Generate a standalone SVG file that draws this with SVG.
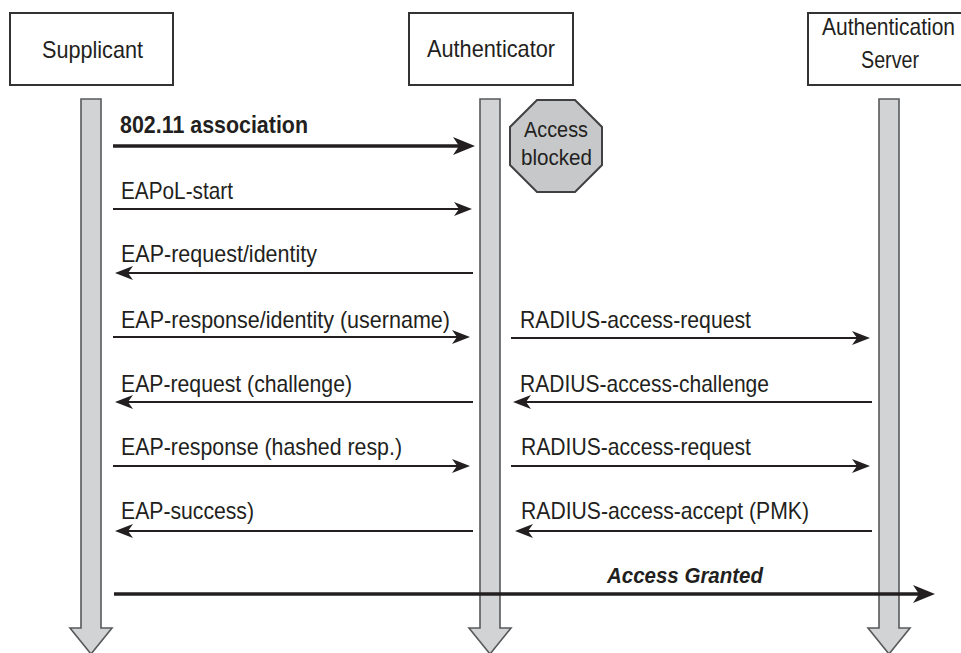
<svg xmlns="http://www.w3.org/2000/svg" width="961" height="653" viewBox="0 0 961 653">
  <style>
    .box { fill: #ffffff; stroke: #333333; stroke-width: 2; }
    .life { fill: #d1d3d4; stroke: #58595b; stroke-width: 1.6; stroke-linejoin: miter; }
    .title { font-family: "Liberation Sans", Arial, sans-serif; font-size: 24px; fill: #231f20; }
    .lbl { font-family: "Liberation Sans", Arial, sans-serif; font-size: 24px; fill: #231f20; }
    .blbl { font-family: "Liberation Sans", Arial, sans-serif; font-size: 24px; font-weight: bold; fill: #231f20; }
    .bilbl { font-family: "Liberation Sans", Arial, sans-serif; font-size: 22px; font-weight: bold; font-style: italic; fill: #231f20; }
    .oct { fill: #c6c8ca; stroke: #414042; stroke-width: 2; }
    .octtxt { font-family: "Liberation Sans", Arial, sans-serif; font-size: 22px; fill: #231f20; }
    .msg { fill: none; stroke: #231f20; stroke-width: 1.8; marker-end: url(#ah); }
    .bmsg { fill: none; stroke: #231f20; stroke-width: 3.5; marker-end: url(#bah); }
  </style>
  <defs>
    <marker id="ah" markerUnits="userSpaceOnUse" markerWidth="18" markerHeight="14" viewBox="0 0 18 14" refX="8" refY="7" orient="auto">
      <path d="M0,0 L18,7 L0,14 L5,7 Z" fill="#231f20"/>
    </marker>
    <marker id="bah" markerUnits="userSpaceOnUse" markerWidth="22" markerHeight="18" viewBox="0 0 22 18" refX="10" refY="9" orient="auto">
      <path d="M0,0 L22,9 L0,18 L6,9 Z" fill="#231f20"/>
    </marker>
  </defs>
  <rect width="961" height="653" fill="#ffffff"/>

  <g id="supplicant">
    <rect class="box" x="10" y="13" width="163" height="72"/>
    <text class="title" x="42" y="58" textLength="101" lengthAdjust="spacingAndGlyphs">Supplicant</text>
    <path class="life" d="M81,99 H101 V628 H112 L91,654 L70,628 H81 Z"/>
  </g>

  <g id="authenticator">
    <rect class="box" x="409" y="13" width="164" height="72"/>
    <text class="title" x="427" y="57" textLength="128" lengthAdjust="spacingAndGlyphs">Authenticator</text>
    <path class="life" d="M480,99 H500 V628 H511 L490,654 L469,628 H480 Z"/>
  </g>

  <g id="authentication-server">
    <rect class="box" x="808" y="13" width="160" height="72"/>
    <text class="title" x="822" y="35" textLength="133" lengthAdjust="spacingAndGlyphs">Authentication</text>
    <text class="title" x="861" y="68" textLength="58" lengthAdjust="spacingAndGlyphs">Server</text>
    <path class="life" d="M879,99 H899 V628 H910 L889,654 L868,628 H879 Z"/>
  </g>

  <g id="access-blocked">
    <polygon class="oct" points="537,100 575,100 602,127 602,165 575,192 537,192 510,165 510,127"/>
    <text class="octtxt" x="524" y="137" textLength="64" lengthAdjust="spacingAndGlyphs">Access</text>
    <text class="octtxt" x="521" y="165" textLength="71" lengthAdjust="spacingAndGlyphs">blocked</text>
  </g>

  <g id="connectors">
    <line class="bmsg" x1="113" y1="146" x2="463" y2="146"/>
    <text class="blbl" x="120" y="133" textLength="188" lengthAdjust="spacingAndGlyphs">802.11 association</text>

    <line class="msg" x1="113" y1="209" x2="462" y2="209"/>
    <text class="lbl" x="121" y="199" textLength="112" lengthAdjust="spacingAndGlyphs">EAPoL-start</text>

    <line class="msg" x1="473" y1="273" x2="125" y2="273"/>
    <text class="lbl" x="121" y="262" textLength="196" lengthAdjust="spacingAndGlyphs">EAP-request/identity</text>

    <line class="msg" x1="113" y1="337" x2="460" y2="337"/>
    <text class="lbl" x="121" y="328" textLength="329" lengthAdjust="spacingAndGlyphs">EAP-response/identity (username)</text>

    <line class="msg" x1="511" y1="338" x2="860" y2="338"/>
    <text class="lbl" x="520" y="328" textLength="231" lengthAdjust="spacingAndGlyphs">RADIUS-access-request</text>

    <line class="msg" x1="473" y1="402" x2="125" y2="402"/>
    <text class="lbl" x="121" y="392" textLength="231" lengthAdjust="spacingAndGlyphs">EAP-request (challenge)</text>

    <line class="msg" x1="872" y1="402" x2="523" y2="402"/>
    <text class="lbl" x="520" y="392" textLength="249" lengthAdjust="spacingAndGlyphs">RADIUS-access-challenge</text>

    <line class="msg" x1="113" y1="466" x2="460" y2="466"/>
    <text class="lbl" x="121" y="455" textLength="281" lengthAdjust="spacingAndGlyphs">EAP-response (hashed resp.)</text>

    <line class="msg" x1="511" y1="466" x2="860" y2="466"/>
    <text class="lbl" x="521" y="455" textLength="230" lengthAdjust="spacingAndGlyphs">RADIUS-access-request</text>

    <line class="msg" x1="473" y1="531" x2="125" y2="531"/>
    <text class="lbl" x="121" y="519" textLength="133" lengthAdjust="spacingAndGlyphs">EAP-success)</text>

    <line class="msg" x1="872" y1="531" x2="525" y2="531"/>
    <text class="lbl" x="521" y="519" textLength="288" lengthAdjust="spacingAndGlyphs">RADIUS-access-accept (PMK)</text>

    <line class="bmsg" x1="114" y1="594" x2="923" y2="594"/>
    <text class="bilbl" x="607" y="583" textLength="156" lengthAdjust="spacingAndGlyphs">Access Granted</text>
  </g>
</svg>
